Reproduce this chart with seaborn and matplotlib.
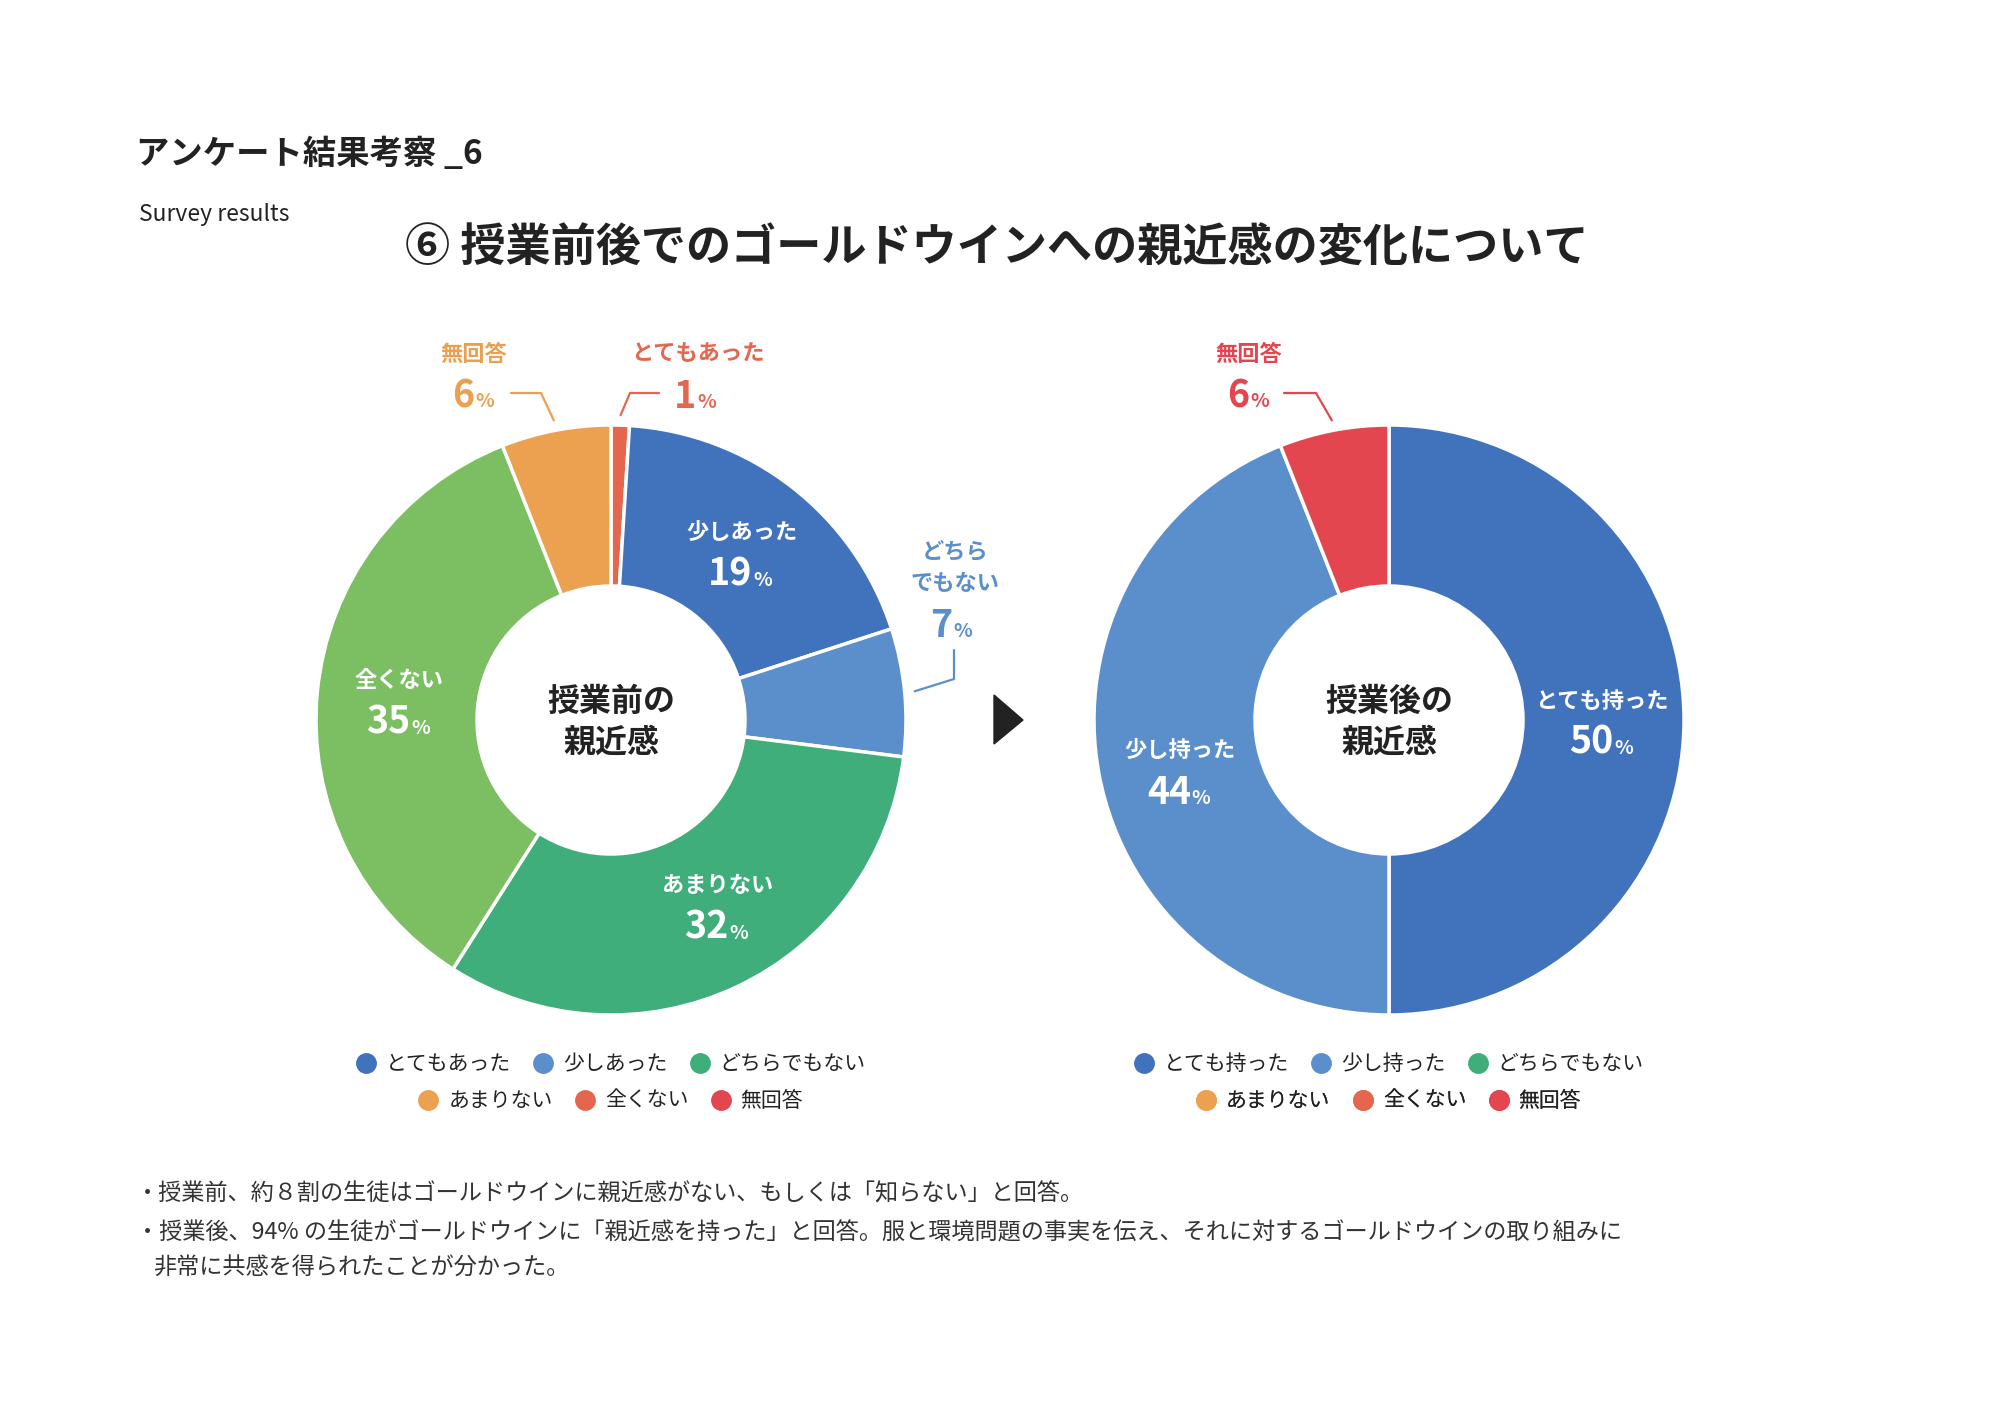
import numpy as np
import matplotlib
matplotlib.use("Agg")
import matplotlib.pyplot as plt
import seaborn as sns
from matplotlib.lines import Line2D
from matplotlib.patches import Polygon

sns.set_theme(style="white")
plt.rcParams["font.family"] = ["Noto Sans CJK JP", "DejaVu Sans"]

# データ
before_labels = ["とてもあった", "少しあった", "どちらでもない", "あまりない", "全くない", "無回答"]
before_values = [1, 19, 7, 32, 35, 6]
before_colors = ["#E5664F", "#4073BC", "#5B8FCB", "#3FAE7B", "#7CBE62", "#EBA150"]

after_labels = ["とても持った", "少し持った", "無回答"]
after_values = [50, 44, 6]
after_colors = ["#4073BC", "#5B8FCB", "#E3464F"]

legend_before = ["とてもあった", "少しあった", "どちらでもない", "あまりない", "全くない", "無回答"]
legend_after = ["とても持った", "少し持った", "どちらでもない", "あまりない", "全くない", "無回答"]
legend_colors = ["#4073BC", "#5B8FCB", "#3FAE7B", "#EBA150", "#E5664F", "#E3464F"]

notes = [
    "・授業前、約８割の生徒はゴールドウインに親近感がない、もしくは「知らない」と回答。",
    "・授業後、94% の生徒がゴールドウインに「親近感を持った」と回答。服と環境問題の事実を伝え、それに対するゴールドウインの取り組みに",
    "非常に共感を得られたことが分かった。",
]

W, H = 2000, 1415
R_OUT, R_IN = 295, 134
DARK = "#222222"


def Y(y):
    return H - y


fig = plt.figure(figsize=(20, 14.15), dpi=100)
ax = fig.add_axes([0, 0, 1, 1])


def pct_text(x, y, value, color, big=27, small=14):
    # 数字と%を別サイズで並べる
    n = len(str(value))
    split = x + (n * 22 - 22) / 2
    base = Y(y + 14)
    ax.text(split, base, str(value), ha="right", va="baseline", fontsize=big,
            fontweight="bold", color=color)
    ax.text(split + 1, base, "%", ha="left", va="baseline", fontsize=small,
            fontweight="bold", color=color)


def donut(cx, cy, values, colors, labels, inside, center_lines, nudge=None):
    nudge = nudge or {}
    wedges, _ = ax.pie(values, colors=colors, startangle=90, counterclock=False,
                       radius=R_OUT, center=(cx, Y(cy)),
                       wedgeprops=dict(width=R_OUT - R_IN, edgecolor="white", linewidth=2.5))
    for i in inside:
        w = wedges[i]
        th = np.deg2rad((w.theta1 + w.theta2) / 2)
        dx, dy = nudge.get(i, (0, 0))
        x = cx + 213 * np.cos(th) + dx
        y = cy - 213 * np.sin(th) + dy
        ax.text(x, Y(y - 19), labels[i], ha="center", va="center", fontsize=16,
                fontweight="bold", color="white")
        pct_text(x, y + 20, values[i], "white")
    ax.text(cx, Y(702), center_lines[0], ha="center", va="center", fontsize=23,
            fontweight="bold", color=DARK)
    ax.text(cx, Y(743), center_lines[1], ha="center", va="center", fontsize=23,
            fontweight="bold", color=DARK)
    return wedges


def anchor(cx, cy, w, r=305):
    th = np.deg2rad((w.theta1 + w.theta2) / 2)
    return cx + r * np.cos(th), cy - r * np.sin(th)


def leader(pts, color):
    xs = [p[0] for p in pts]
    ys = [Y(p[1]) for p in pts]
    ax.plot(xs, ys, color=color, lw=1.6, solid_capstyle="round")


# 授業前
cxL, cxR, cy = 611, 1389, 720
wl = donut(cxL, cy, before_values, before_colors, before_labels, [1, 3, 4],
           ["授業前の", "親近感"], nudge={3: (16, -8)})

c = "#E9A050"
a = anchor(cxL, cy, wl[5])
leader([a, (541, 393), (511, 393)], c)
ax.text(474, Y(354), before_labels[5], ha="center", va="center", fontsize=16, fontweight="bold", color=c)
pct_text(474, 393, before_values[5], c)

c = "#E5664F"
a = anchor(cxL, cy, wl[0])
leader([a, (630, 393), (659, 393)], c)
ax.text(698, Y(354), before_labels[0], ha="center", va="center", fontsize=16, fontweight="bold", color=c)
pct_text(696, 394, before_values[0], c)

c = "#5B8FCB"
a = anchor(cxL, cy, wl[2])
leader([a, (954, 679), (954, 650)], c)
ax.text(955, Y(552), "どちら", ha="center", va="center", fontsize=16, fontweight="bold", color=c)
ax.text(955, Y(583), "でもない", ha="center", va="center", fontsize=16, fontweight="bold", color=c)
pct_text(952, 623, before_values[2], c)

# 授業後
wr = donut(cxR, cy, after_values, after_colors, after_labels, [0, 1],
           ["授業後の", "親近感"], nudge={1: (0, 10)})
c = "#E3464F"
a = anchor(cxR, cy, wr[2])
leader([a, (1316, 393), (1284, 393)], c)
ax.text(1249, Y(354), after_labels[2], ha="center", va="center", fontsize=16, fontweight="bold", color=c)
pct_text(1249, 393, after_values[2], c)

# 矢印
ax.add_patch(Polygon([(994, Y(695)), (1023, Y(720)), (994, Y(744))], closed=True, color=DARK))

# 凡例
def legend_row(names, colors, x, y):
    handles = [Line2D([], [], marker="o", linestyle="none", markersize=14,
                      markerfacecolor=col, markeredgecolor=col) for col in colors]
    leg = ax.legend(handles, names, loc="center", bbox_to_anchor=(x, Y(y)),
                    bbox_transform=ax.transData, ncol=3, frameon=False, fontsize=15,
                    handlelength=0.9, handletextpad=0.5, columnspacing=1.1, borderpad=0)
    for t in leg.get_texts():
        t.set_color(DARK)
    ax.add_artist(leg)


legend_row(legend_before[:3], legend_colors[:3], cxL, 1064)
legend_row(legend_before[3:], legend_colors[3:], cxL, 1101)
legend_row(legend_after[:3], legend_colors[:3], cxR, 1064)
legend_row(legend_after[3:], legend_colors[3:], cxR, 1101)

# タイトル
ax.text(136, Y(154), "アンケート結果考察 _6", ha="left", va="center", fontsize=24,
        fontweight="bold", color=DARK)
ax.text(139, Y(214), "Survey results", ha="left", va="center", fontsize=16.5, color=DARK)
ax.text(997, Y(249), "⑥ 授業前後でのゴールドウインへの親近感の変化について", ha="center",
        va="center", fontsize=32.5, fontweight="bold", color=DARK)

# 考察
ax.text(136, Y(1194), notes[0], ha="left", va="center", fontsize=16.7, color="#333333")
ax.text(136, Y(1233), notes[1], ha="left", va="center", fontsize=16.7, color="#333333")
ax.text(153, Y(1268), notes[2], ha="left", va="center", fontsize=16.7, color="#333333")

ax.set_xlim(0, W)
ax.set_ylim(0, H)
ax.set_aspect("equal")
ax.axis("off")
fig.savefig("out.png", dpi=100, facecolor="white")
